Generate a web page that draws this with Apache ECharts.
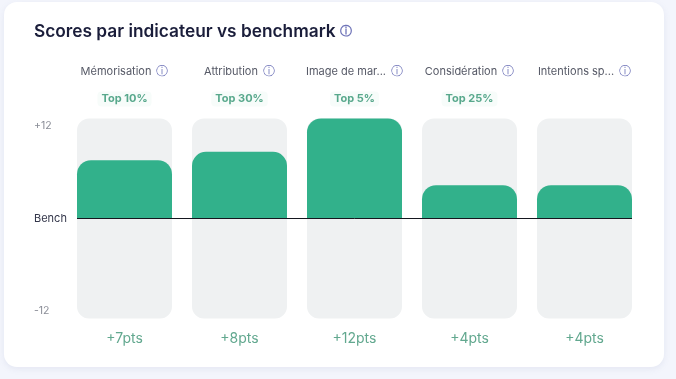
<!DOCTYPE html>
<html><head><meta charset="utf-8">
<style>
html,body{margin:0;padding:0;width:676px;height:379px;overflow:hidden;background:#f3f5fc}
#card{position:absolute;left:4px;top:2px;width:660px;height:365px;background:#fff;border-radius:13px;box-shadow:0 2px 6px rgba(120,130,170,.12)}
#c{position:absolute;left:0;top:0;width:676px;height:379px}
</style></head><body>
<div id="card"></div><div id="c"></div>
<script src="https://cdn.jsdelivr.net/npm/echarts@6/dist/echarts.min.js"></script>
<script>
const categories=['Mémorisation','Attribution','Image de mar...','Considération','Intentions sp...'];
const ranks=['Top 10%','Top 30%','Top 5%','Top 25%',''];
const scores=[7,8,12,4,4];
const yTicks=[-12,0,12];
const yTickLabels=['-12','Bench','+12'];
const title='Scores par indicateur vs benchmark';
const FONT='Inter';
const chart=echarts.init(document.getElementById('c'),null,{renderer:'canvas'});
const iconStyle={fontFamily:'DejaVu Sans',fontSize:12,color:'#6f74b8'};
chart.setOption({
  animation:false,
  title:{left:29,top:18,text:'{t|'+title+'}{i| ⓘ}',textStyle:{rich:{
    t:{fontFamily:FONT,fontSize:17.3,fontWeight:600,color:'#1a1d3a'},
    i:iconStyle}}},
  grid:{left:67,width:575,top:118.5,height:200,containLabel:false},
  xAxis:[
    {type:'category',data:categories,position:'top',axisLine:{show:false},axisTick:{show:false},
     axisLabel:{interval:0,margin:41,formatter:v=>'{n|'+v+'}{i|ⓘ}',
       rich:{n:{fontFamily:FONT,fontSize:11,color:'#565966'},i:Object.assign({padding:[0,0,0,5]},iconStyle)}}},
    {type:'category',data:ranks,position:'top',axisLine:{show:false},axisTick:{show:false},
     axisLabel:{interval:0,margin:12,formatter:v=>v?'{b|'+v+'}':'',
       rich:{b:{fontFamily:FONT,fontSize:11,fontWeight:700,color:'#58a88c',backgroundColor:'#f7fcfa',padding:[2,4],borderRadius:4}}}},
    {type:'category',data:scores.map(v=>'+'+v+'pts'),position:'bottom',axisLine:{show:false},axisTick:{show:false},
     axisLabel:{interval:0,margin:13,fontFamily:FONT,fontSize:14,color:'#62a88f'}}
  ],
  yAxis:[
    {type:'value',min:-12,max:12,show:false},
    {type:'value',min:-12.97,max:12.97,position:'left',axisLine:{show:false},axisTick:{show:false},splitLine:{show:false},
     axisLabel:{customValues:yTicks,align:'left',margin:33,fontFamily:FONT,fontSize:10.5,
       formatter:v=>v===0?'{b|Bench}':yTickLabels[yTicks.indexOf(v)],color:'#8a8d97',
       rich:{b:{fontFamily:FONT,fontSize:11,color:'#33364a'}}}}
  ],
  series:[
    {type:'bar',data:scores,barWidth:95,xAxisIndex:0,yAxisIndex:0,
     showBackground:true,backgroundStyle:{color:'#eff1f2',borderRadius:12},
     itemStyle:{color:'#32b18b',borderRadius:[14,14,0,0]}},
    {type:'custom',xAxisIndex:0,yAxisIndex:0,data:[[0,0]],z:5,silent:true,
     renderItem:(p,api)=>{
       const half=api.size([1,0])[0]*95/115/2;
       const a=api.coord([0,0]),b=api.coord([categories.length-1,0]);
       return {type:'line',shape:{x1:a[0]-half,y1:a[1],x2:b[0]+half,y2:b[1]},style:{stroke:'#15171f',lineWidth:1}};
     }}
  ]
});
</script></body></html>
